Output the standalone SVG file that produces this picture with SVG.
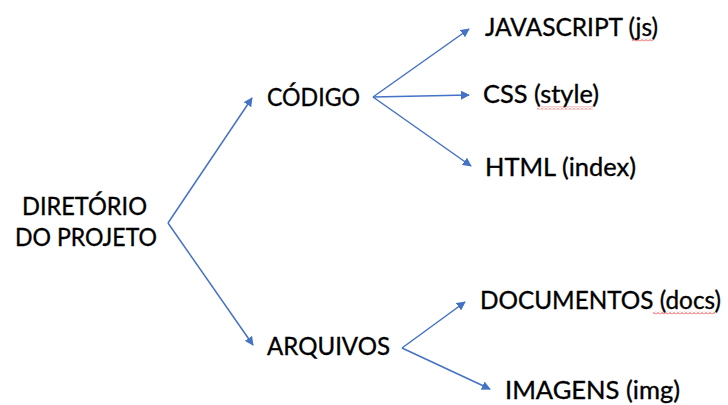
<svg xmlns="http://www.w3.org/2000/svg" width="728" height="405" viewBox="0 0 728 405">
  <style>
    .label { font-family: Lato, "Open Sans", "Liberation Sans", sans-serif; font-size: 25px; fill: #000; stroke: #000; stroke-width: 0.35; }
    .arrow { stroke: #4472C4; stroke-width: 1.5; fill: none; marker-end: url(#head); }
    .squiggle { fill: url(#wave); }
  </style>
  <defs>
    <marker id="head" viewBox="0 0 10 10" refX="9" refY="5" markerWidth="6" markerHeight="6" orient="auto" markerUnits="strokeWidth">
      <path d="M0,0 L10,5 L0,10 z" fill="#4472C4"/>
    </marker>
    <!-- spell-check style red wavy underline -->
    <pattern id="wave" width="4" height="3" patternUnits="userSpaceOnUse">
      <path d="M0,2.5 L2,0.5 L4,2.5" fill="none" stroke="#E03030" stroke-width="0.9"/>
    </pattern>
  </defs>
  <rect width="728" height="405" fill="#fff"/>

  <g id="connectors">
    <line class="arrow" x1="168" y1="223" x2="252" y2="98"/>
    <line class="arrow" x1="168" y1="223" x2="253" y2="345"/>
    <line class="arrow" x1="373" y1="97" x2="469" y2="29"/>
    <line class="arrow" x1="373" y1="97" x2="469" y2="95"/>
    <line class="arrow" x1="373" y1="97" x2="471" y2="166"/>
    <line class="arrow" x1="402" y1="348" x2="465" y2="302"/>
    <line class="arrow" x1="402" y1="348" x2="490" y2="389"/>
  </g>

  <g id="diretorio">
    <text class="label" x="22" y="215" textLength="125" lengthAdjust="spacingAndGlyphs">DIRETÓRIO</text>
    <text class="label" x="15" y="246" textLength="142" lengthAdjust="spacingAndGlyphs">DO PROJETO</text>
  </g>

  <g id="codigo">
    <text class="label" x="267" y="106" textLength="93" lengthAdjust="spacingAndGlyphs">CÓDIGO</text>
  </g>

  <g id="javascript">
    <text class="label" x="485" y="36" textLength="173" lengthAdjust="spacingAndGlyphs">JAVASCRIPT (js)</text>
    <rect class="squiggle" x="632" y="38.5" width="21" height="3"/>
  </g>

  <g id="css">
    <text class="label" x="483" y="103" textLength="116" lengthAdjust="spacingAndGlyphs">CSS (style)</text>
    <rect class="squiggle" x="537" y="106.5" width="56" height="3"/>
  </g>

  <g id="html">
    <text class="label" x="485" y="176" textLength="151" lengthAdjust="spacingAndGlyphs">HTML (index)</text>
  </g>

  <g id="arquivos">
    <text class="label" x="267" y="355" textLength="123" lengthAdjust="spacingAndGlyphs">ARQUIVOS</text>
  </g>

  <g id="documentos">
    <text class="label" x="480" y="309" textLength="241" lengthAdjust="spacingAndGlyphs">DOCUMENTOS (docs)</text>
    <rect class="squiggle" x="653" y="311.5" width="62" height="3"/>
  </g>

  <g id="imagens">
    <text class="label" x="505" y="399" textLength="175" lengthAdjust="spacingAndGlyphs">IMAGENS (img)</text>
  </g>
</svg>
